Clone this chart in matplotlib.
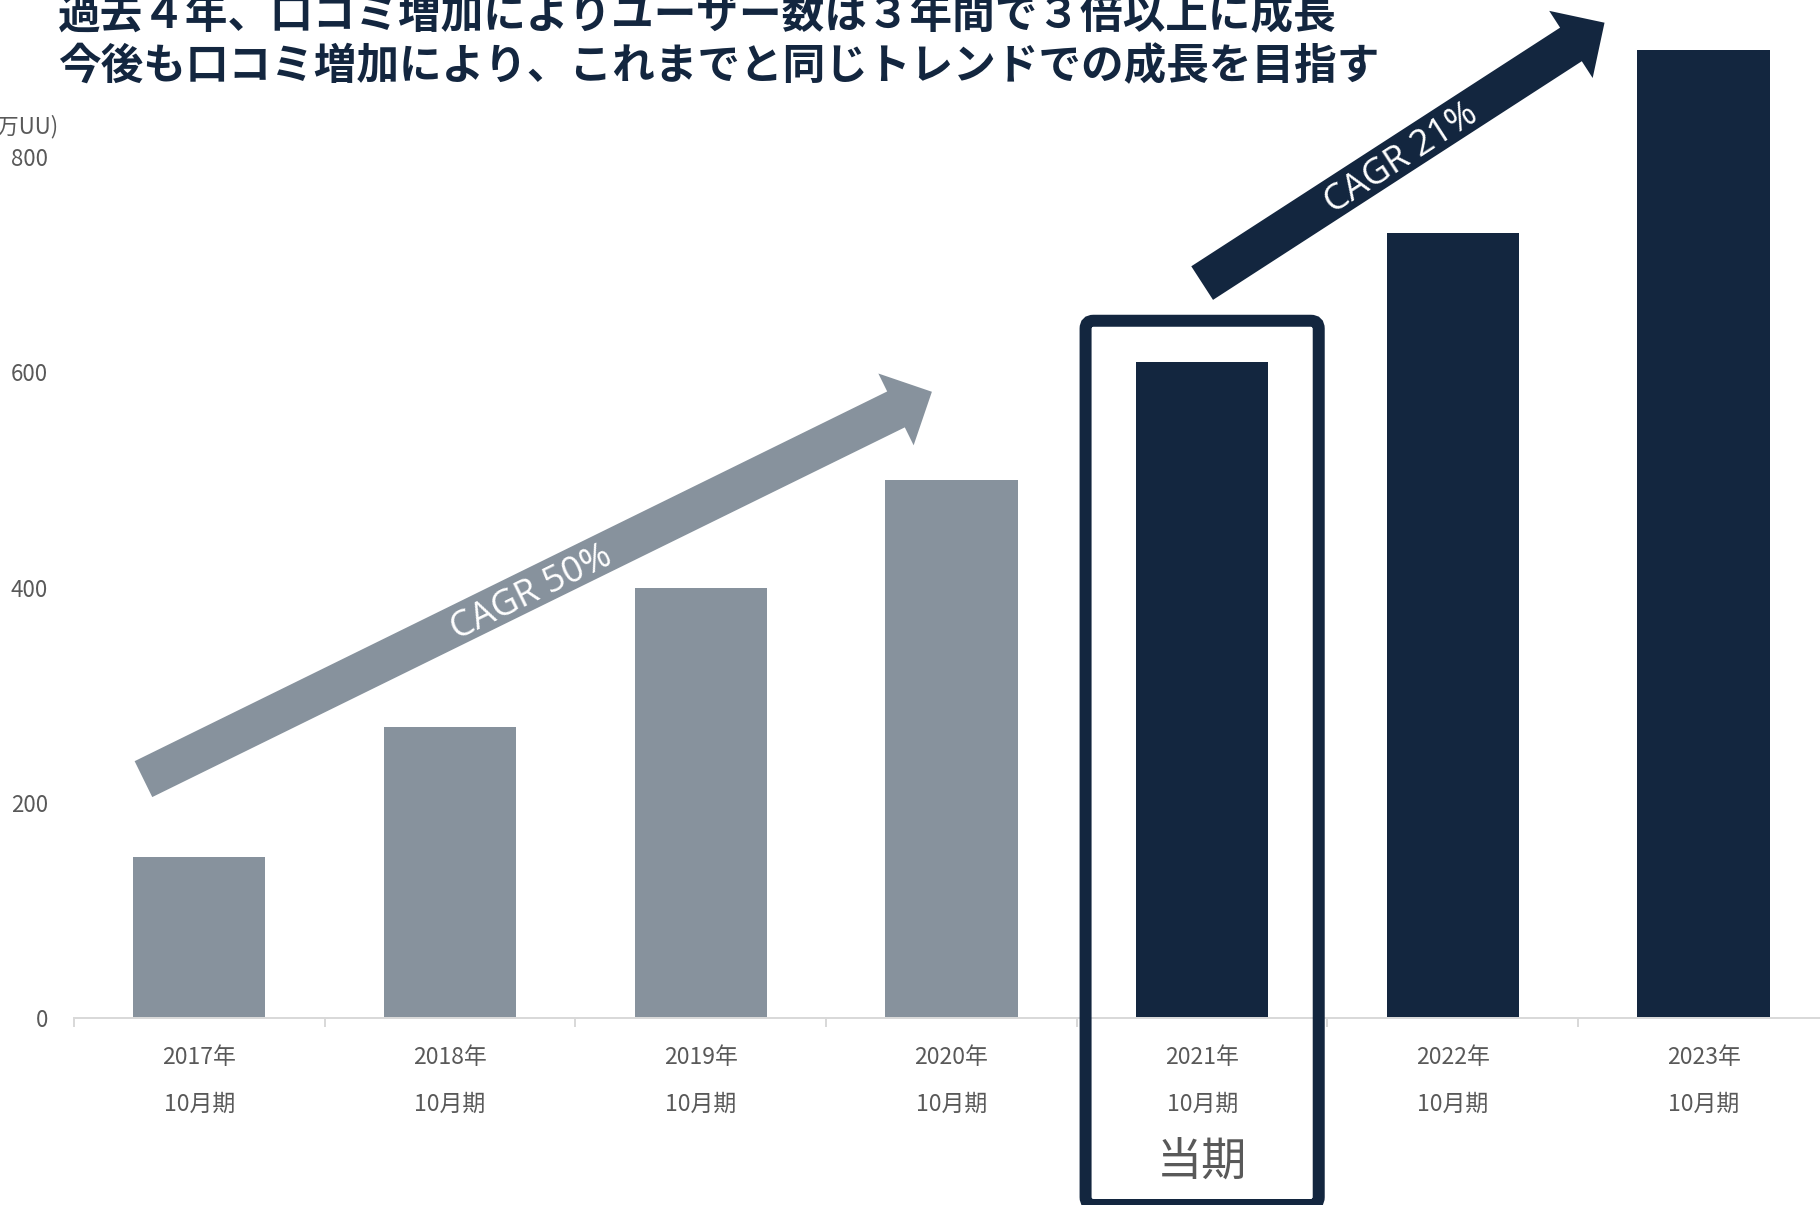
#!/usr/bin/env python3

import numpy as np
import matplotlib.pyplot as plt
from matplotlib.patches import Polygon, FancyBboxPatch
from matplotlib.transforms import IdentityTransform

# unique users per fiscal year (万UU)
years = ["2017年", "2018年", "2019年", "2020年", "2021年", "2022年", "2023年"]
period = "10月期"
users = [150, 270, 400, 500, 610, 730, 900]
y_ticks = [0, 200, 400, 600, 800]
current_idx = 4  # 2021年10月期 = 当期

title_lines = [
    "過去４年、口コミ増加によりユーザー数は３年間で３倍以上に成長",
    "今後も口コミ増加により、これまでと同じトレンドでの成長を目指す",
]
unit_label = "(万UU)"
current_label = "当期"
cagr_past = "CAGR 50%"
cagr_future = "CAGR 21%"

GRAY = "#87929D"
NAVY = "#13263F"
TEXT = "#595959"
AXIS = "#D9D9D9"
JP = ["Noto Sans CJK JP", "DejaVu Sans"]

W, H = 1820, 1205
PX = 72 / 100  # points per pixel at dpi 100


def draw_arrow(ax, start, end, color, label, shaft=40, head_w=80, head_l=40,
               text_at=0.49):
    """Block arrow from start to end (data coords), label written along it."""
    p0 = ax.transData.transform(start)
    p1 = ax.transData.transform(end)
    d = p1 - p0
    u = d / np.hypot(*d)
    n = np.array([-u[1], u[0]])
    b = p1 - u * head_l
    pts = [
        p0 + n * shaft / 2,
        b + n * shaft / 2,
        b + n * head_w / 2,
        p1,
        b - n * head_w / 2,
        b - n * shaft / 2,
        p0 - n * shaft / 2,
    ]
    ax.add_patch(Polygon(pts, closed=True, transform=IdentityTransform(),
                         facecolor=color, edgecolor="none", clip_on=False,
                         zorder=3))
    angle = np.degrees(np.arctan2(d[1], d[0]))
    mid = p0 + d * text_at
    ax.text(mid[0], mid[1], label, transform=IdentityTransform(),
            rotation=angle, rotation_mode="anchor", ha="center",
            va="center_baseline", color="white", fontsize=26,
            family=["Open Sans", "DejaVu Sans"], zorder=4)


fig = plt.figure(figsize=(W / 100, H / 100), dpi=100)
ax = fig.add_axes([74 / W, (H - 1018) / H, 7 * 250.7 / W, 1018 / H])

x = np.arange(len(years))
colors = [GRAY if i < current_idx else NAVY for i in x]
ax.bar(x, users, width=0.527, color=colors, zorder=2)

ax.set_xlim(-0.5, len(years) - 0.5)
ax.set_ylim(0, 1018 / 1.076)

for side in ["top", "right", "left"]:
    ax.spines[side].set_visible(False)
ax.spines["bottom"].set_color(AXIS)
ax.spines["bottom"].set_linewidth(2 * PX)

ax.set_yticks(y_ticks)
ax.set_yticklabels([str(v) for v in y_ticks], family=JP, fontsize=16,
                   color=TEXT)
ax.tick_params(axis="y", length=0, pad=26 * PX)

ax.set_xticks(np.arange(len(years) + 1) - 0.5)
ax.set_xticklabels([])
ax.tick_params(axis="x", length=9 * PX, width=2 * PX, color=AXIS)

# category labels: year on the first row, period on the second
xt = ax.get_xaxis_transform()
for i, yr in enumerate(years):
    ax.text(i, -40 / 1018, yr, transform=xt, ha="center", va="center",
            family=JP, fontsize=16.5, color=TEXT)
    ax.text(i, -86 / 1018, period, transform=xt, ha="center", va="center",
            family=JP, fontsize=16.5, color=TEXT)
ax.text(current_idx, -145 / 1018, current_label, transform=xt, ha="center",
        va="center", family=JP, fontsize=32.5, color=TEXT)

# frame around the current period, running off the bottom edge
tl = ax.transData.transform((current_idx - 0.465, 648))
br = ax.transData.transform((current_idx + 0.465, 0))
ax.add_patch(FancyBboxPatch((tl[0], 0), br[0] - tl[0], tl[1],
                            boxstyle="round,pad=0,rounding_size=8",
                            transform=IdentityTransform(), fill=False,
                            edgecolor=NAVY, linewidth=12 * PX,
                            clip_on=False, zorder=5))

# growth arrows
draw_arrow(ax, (-0.223, 222), (2.922, 582), GRAY, cagr_past)
draw_arrow(ax, (4.0, 683), (5.605, 925), NAVY, cagr_future)

fig.text(58 / W, 127 / H * -1 + 1, unit_label, ha="right", va="center",
         family=JP, fontsize=16, color=TEXT)

for k, line in enumerate(title_lines):
    fig.text(58 / W, 1 - (15.5 + 51 * k) / H, line, ha="left", va="center",
             family=JP, fontsize=30.7, fontweight="bold", color=NAVY)

fig.savefig("out.png", dpi=100)
